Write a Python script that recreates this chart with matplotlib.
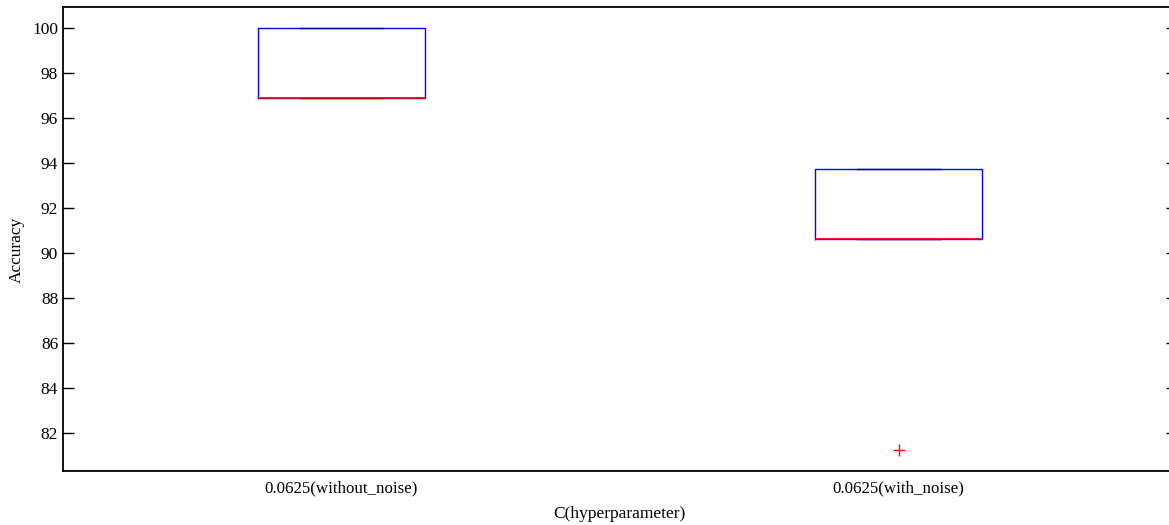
import numpy as np
import matplotlib
matplotlib.use("Agg")
from matplotlib import pyplot as plt

# box statistics (MATLAB style boxplot)
labels = ["0.0625(without_noise)", "0.0625(with_noise)"]
q1 = [96.875, 90.625]
med = [96.875, 90.625]
q3 = [100.0, 93.75]
whislo = [96.875, 90.625]
whishi = [100.0, 93.75]
fliers = [[], [81.25]]

plt.rcParams['font.family'] = ['Liberation Serif', 'DejaVu Serif']

fig = plt.figure(figsize=(11.69, 5.25), dpi=100)
ax = fig.add_axes([63/1169, 1 - 471/525, 1114/1169, 464/525])

stats = []
for i in range(len(labels)):
    stats.append(dict(label=labels[i], q1=q1[i], med=med[i], q3=q3[i],
                      whislo=whislo[i], whishi=whishi[i], fliers=fliers[i]))

ax.bxp(stats, positions=[1, 2], widths=0.3, showfliers=True,
       boxprops=dict(color=(0, 0, 1), linewidth=1.0),
       medianprops=dict(color=(1, 0, 0), linewidth=1.2),
       whiskerprops=dict(color='k', linestyle='--', linewidth=0.8),
       capprops=dict(color=(0, 0, 0.6), linewidth=1.0),
       capwidths=0.15,
       flierprops=dict(marker='+', markeredgecolor='r', markersize=9, markeredgewidth=1.0))

ax.set_xlim(0.5, 2.5)
ax.set_ylim(80.3125, 100.9375)
ax.set_yticks(np.arange(82, 101, 2))
ax.tick_params(axis='y', direction='in', length=8, width=1, right=True, labelsize=12.5)
ax.tick_params(axis='x', length=0, labelsize=12.2, pad=7)
for s in ['left', 'top', 'bottom', 'right']:
    ax.spines[s].set_linewidth(1.3)

ax.set_ylabel("Accuracy", fontsize=12.5)
ax.yaxis.set_label_coords((25 - 63) / 1114, (471 - 250) / 464)
ax.set_xlabel("C(hyperparameter)", fontsize=12.5)
ax.xaxis.set_label_coords((619 - 63) / 1114, -0.075)

fig.savefig("out.png", dpi=100)
